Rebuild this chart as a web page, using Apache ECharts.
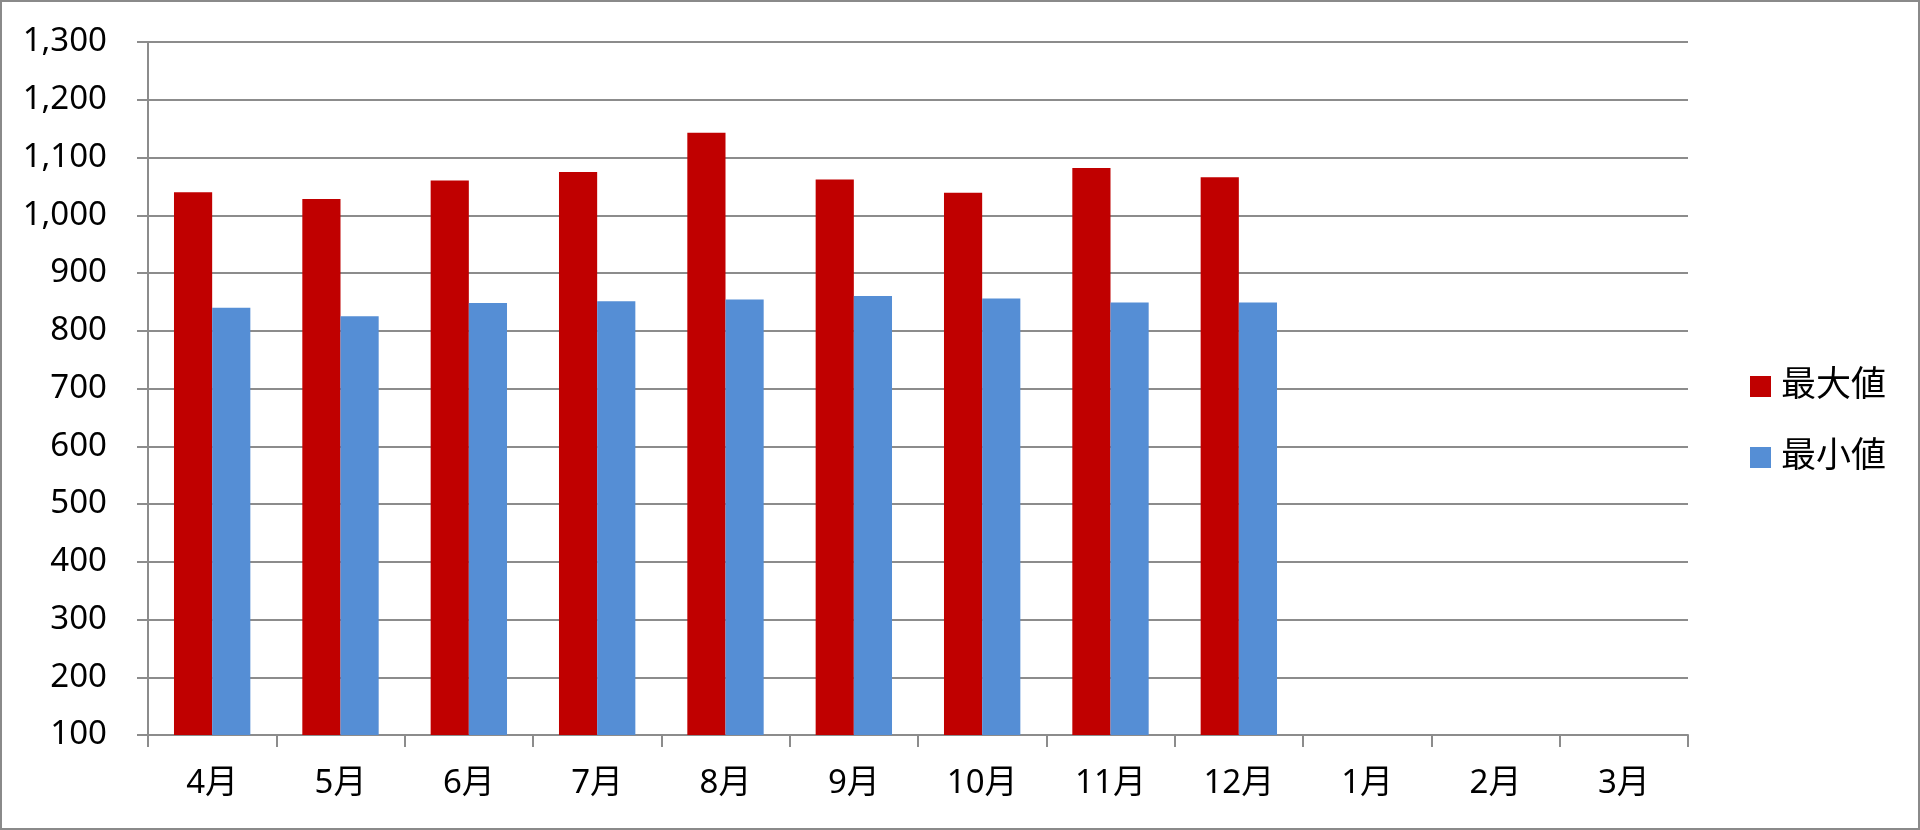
<!DOCTYPE html>
<html>
<head>
<meta charset="utf-8">
<script src="https://cdn.jsdelivr.net/npm/echarts@6/dist/echarts.min.js"></script>
<style>
html,body{margin:0;padding:0;background:#fff;}
#wrap{width:1920px;height:830px;box-sizing:border-box;border:2px solid #8a8a8a;position:relative;}
#chart{position:absolute;left:-2px;top:-2px;width:1920px;height:830px;}
</style>
</head>
<body>
<div id="wrap"><div id="chart"></div></div>
<script>
const categories = ['4月','5月','6月','7月','8月','9月','10月','11月','12月','1月','2月','3月'];
const maxValues = [1040, 1028, 1060, 1075, 1143, 1062, 1039, 1082, 1066, null, null, null];
const minValues = [840, 825, 848, 851, 854, 860, 856, 849, 849, null, null, null];
const seriesNames = ['最大値', '最小値'];

const FONT = "'Noto Sans', 'Noto Sans CJK JP', sans-serif";
const GRID = '#8c8c8c';

const chart = echarts.init(document.getElementById('chart'), null, {renderer:'canvas'});
chart.setOption({
  animation: false,
  backgroundColor: 'transparent',
  grid: {left: 148, right: 232, top: 42, bottom: 95, containLabel: false},
  legend: {
    orient: 'vertical',
    left: 1745,
    top: 364,
    icon: 'rect',
    itemWidth: 21,
    itemHeight: 21,
    itemGap: 36,
    textStyle: {fontFamily: FONT, fontSize: 35, color: '#000', lineHeight: 35, padding: [0,0,0,5]},
    data: seriesNames
  },
  xAxis: {
    type: 'category',
    data: categories,
    boundaryGap: true,
    axisLine: {show: true, lineStyle: {color: GRID, width: 2}},
    axisTick: {show: true, length: 12, lineStyle: {color: GRID, width: 2}},
    axisLabel: {fontFamily: FONT, fontSize: 33, color: '#000', margin: 32},
    splitLine: {show: false}
  },
  yAxis: {
    type: 'value',
    min: 100,
    max: 1300,
    interval: 100,
    axisLine: {show: true, lineStyle: {color: GRID, width: 2}},
    axisTick: {show: true, length: 11, lineStyle: {color: GRID, width: 2}},
    axisLabel: {
      fontFamily: FONT, fontSize: 33, color: '#000', margin: 41,
      formatter: v => v.toLocaleString('en-US')
    },
    splitLine: {show: true, lineStyle: {color: GRID, width: 2}}
  },
  series: [
    {name: seriesNames[0], type: 'bar', data: maxValues, itemStyle: {color: '#C00000'}, barGap: '0%', barCategoryGap: '40.5%'},
    {name: seriesNames[1], type: 'bar', data: minValues, itemStyle: {color: '#558ED5'}, barGap: '0%', barCategoryGap: '40.5%'}
  ]
});
</script>
</body>
</html>
